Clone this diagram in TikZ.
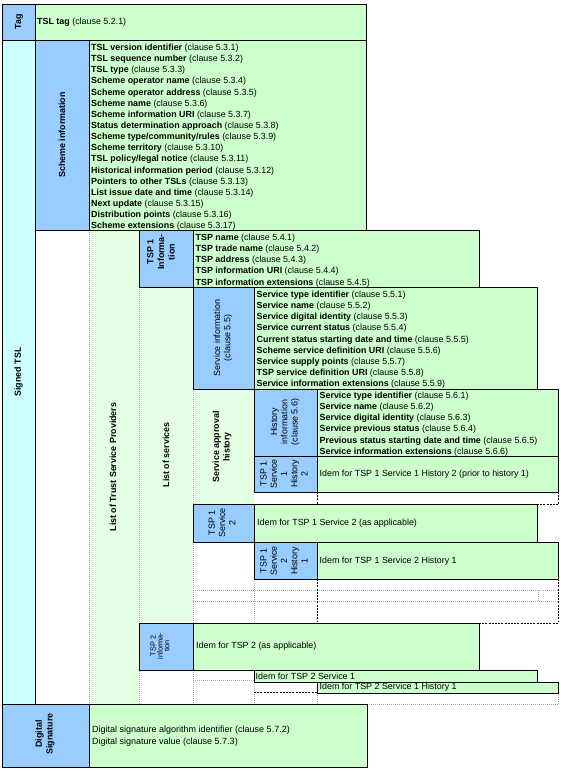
\documentclass[tikz,border=0pt]{standalone}
\usepackage{fontspec}
\setmainfont{Liberation Sans}
\usepackage{tikz}

\definecolor{tslblue}{HTML}{99CCFF}
\definecolor{tslgreen}{HTML}{CCFFCC}
\definecolor{tsllist}{HTML}{E4FFE4}
\definecolor{tslcyan}{HTML}{CCFFFF}

\tikzset{
	headbox/.style={draw=black, line width=0.8pt, fill=tslblue},
	fieldbox/.style={draw=black, line width=0.8pt, fill=tslgreen},
	listcol/.style={fill=tsllist},
	gridline/.style={draw=black!35, line width=0.6pt, dash pattern=on 1pt off 1pt},
	openline/.style={draw=black, line width=0.9pt, dash pattern=on 2pt off 1.2pt},
	vlabel/.style={rotate=90, align=center, inner sep=0pt, font=\fontsize{8.9}{10.6}\selectfont\bfseries},
	vlabelrm/.style={rotate=90, align=center, inner sep=0pt, font=\fontsize{8.9}{10.3}\selectfont},
	fields/.style={anchor=north west, align=left, inner sep=0pt, font=\fontsize{8.9}{11.15}\selectfont},
	idem/.style={anchor=west, inner sep=0pt, font=\fontsize{8.9}{11}\selectfont},
}
\newcommand\tslfield[2]{\textbf{#1} (clause #2)}

\begin{document}
\begin{tikzpicture}[x=1pt, y=-1pt]
			%%%%% START %%%%%
			\useasboundingbox (0,0) rectangle (561,771);
			
			\fill[listcol] (89,230) rectangle (139,704);
			\fill[listcol] (139,287) rectangle (193,622);
			\fill[listcol] (193,389) rectangle (254,504);
			
			\draw[gridline] (89,230) -- (89,704);
			\draw[gridline] (139,287) -- (139,704);
			\draw[gridline] (193,389) -- (193,504);
			\draw[gridline] (193,542) -- (193,704);
			\draw[gridline] (254,579) -- (254,622);
			\draw[gridline] (254,682) -- (254,704);
			\draw[gridline] (193,590) -- (558,590);
			\draw[gridline] (193,601) -- (558,601);
			\draw[gridline] (538,590) -- (538,601);
			\draw[gridline] (193,680) -- (254,680);
			\draw[gridline] (367,704) -- (558,704);
			\draw[gridline] (317,693) -- (317,704);
			\draw[gridline] (558,693) -- (558,704);
			
			\draw[openline] (317,492) -- (317,504);
			\draw[openline] (558,492) -- (558,504);
			\draw[openline] (537,504) -- (558,504);
			\draw[openline] (317,579) -- (317,622);
			\draw[openline] (558,579) -- (558,622);
			\draw[openline] (479,623) -- (558,623);
			\draw[openline] (254,692) -- (317,692);
			
			% tag and scheme information
			\draw[headbox] (2,4) rectangle (35,40);
			\draw[fieldbox] (35,4) rectangle (366,40);
			\draw[draw=black, line width=0.8pt, fill=tslcyan] (2,40) rectangle (35,704);
			\draw[headbox] (35,40) rectangle (89,230);
			\draw[fieldbox] (89,40) rectangle (366,230);
			
			% TSP 1
			\draw[headbox] (139,230) rectangle (193,287);
			\draw[fieldbox] (193,230) rectangle (479,287);
			\draw[headbox] (193,287) rectangle (254,389);
			\draw[fieldbox] (254,287) rectangle (537,389);
			\draw[headbox] (254,389) rectangle (317,456);
			\draw[fieldbox] (317,389) rectangle (558,456);
			\draw[headbox] (254,456) rectangle (317,492);
			\draw[fieldbox] (317,456) rectangle (558,492);
			\draw[headbox] (193,504) rectangle (254,542);
			\draw[fieldbox] (254,504) rectangle (537,542);
			\draw[headbox] (254,542) rectangle (317,579);
			\draw[fieldbox] (317,542) rectangle (558,579);
			
			% TSP 2
			\draw[headbox] (139,623) rectangle (193,670);
			\draw[fieldbox] (193,623) rectangle (479,670);
			\draw[fieldbox] (254,670) rectangle (537,682);
			\draw[fieldbox] (317,682) rectangle (558,693);
			
			% digital signature
			\draw[headbox] (2,704) rectangle (89,767);
			\draw[fieldbox] (89,704) rectangle (367,767);
			
			\node[vlabel] (tag) at (19,22) {Tag};
			\node[idem] (tagtext) at (37,22) {\tslfield{TSL tag}{5.2.1}};
			\node[vlabel] (signed) at (18.5,372) {Signed TSL};
			\node[vlabel] (scheme) at (62,135) {Scheme information};
			\node[fields] (schemelist) at (91,43.8) {\tslfield{TSL version identifier}{5.3.1}\\
				\tslfield{TSL sequence number}{5.3.2}\\
				\tslfield{TSL type}{5.3.3}\\
				\tslfield{Scheme operator name}{5.3.4}\\
				\tslfield{Scheme operator address}{5.3.5}\\
				\tslfield{Scheme name}{5.3.6}\\
				\tslfield{Scheme information URI}{5.3.7}\\
				\tslfield{Status determination approach}{5.3.8}\\
				\tslfield{Scheme type/community/rules}{5.3.9}\\
				\tslfield{Scheme territory}{5.3.10}\\
				\tslfield{TSL policy/legal notice}{5.3.11}\\
				\tslfield{Historical information period}{5.3.12}\\
				\tslfield{Pointers to other TSLs}{5.3.13}\\
				\tslfield{List issue date and time}{5.3.14}\\
				\tslfield{Next update}{5.3.15}\\
				\tslfield{Distribution points}{5.3.16}\\
				\tslfield{Scheme extensions}{5.3.17}};
			
			\node[vlabel] (listtsp) at (113,467) {List of Trust Service Providers};
			\node[vlabel] (listsvc) at (166,455) {List of services};
			\node[vlabel] (approval) at (222,447) {Service approval\\history};
			
			\node[vlabel] (tsp1) at (161,252) {TSP 1\\Informa-\\tion};
			\node[fields] (tsp1list) at (195.5,233.8) {\tslfield{TSP name}{5.4.1}\\
				\tslfield{TSP trade name}{5.4.2}\\
				\tslfield{TSP address}{5.4.3}\\
				\tslfield{TSP information URI}{5.4.4}\\
				\tslfield{TSP information extensions}{5.4.5}};
			
			\node[vlabelrm] (svcinfo) at (223,338) {Service information\\(clause 5.5)};
			\node[fields] (svclist) at (256.5,290.8) {\tslfield{Service type identifier}{5.5.1}\\
				\tslfield{Service name}{5.5.2}\\
				\tslfield{Service digital identity}{5.5.3}\\
				\tslfield{Service current status}{5.5.4}\\
				\tslfield{Current status starting date and time}{5.5.5}\\
				\tslfield{Scheme service definition URI}{5.5.6}\\
				\tslfield{Service supply points}{5.5.7}\\
				\tslfield{TSP service definition URI}{5.5.8}\\
				\tslfield{Service information extensions}{5.5.9}};
			
			\node[vlabelrm] (histinfo) at (285,422) {History\\information\\(clause 5.6)};
			\node[fields] (histlist) at (319.5,391.8) {\tslfield{Service type identifier}{5.6.1}\\
				\tslfield{Service name}{5.6.2}\\
				\tslfield{Service digital identity}{5.6.3}\\
				\tslfield{Service previous status}{5.6.4}\\
				\tslfield{Previous status starting date and time}{5.6.5}\\
				\tslfield{Service information extensions}{5.6.6}};
			
			\node[vlabelrm] (tsoneshoneh) at (284,474) {TSP 1\\Service\\1\\History\\2};
			\node[idem] (tsoneshonehtext) at (319.5,474) {Idem for TSP 1 Service 1 History 2 (prior to history 1)};
			\node[vlabelrm] (tsonestwo) at (222,523) {TSP 1\\Service\\2};
			\node[idem] (tsonestwotext) at (257,523) {Idem for TSP 1 Service 2 (as applicable)};
			\node[vlabelrm] (tsonestwoh) at (284,561) {TSP 1\\Service\\2\\History\\1};
			\node[idem] (tsonestwohtext) at (319.5,561) {Idem for TSP 1 Service 2 History 1};
			
			\node[vlabelrm, font=\fontsize{7.3}{6.8}\selectfont] (tsp2) at (160,646) {TSP 2\\informa-\\tion};
			\node[idem] (tsp2text) at (196,646) {Idem for TSP 2 (as applicable)};
			\node[idem] (tstwostext) at (255.5,676) {Idem for TSP 2 Service 1};
			\node[idem] (tstwoshtext) at (319.5,687.5) {Idem for TSP 2 Service 1 History 1};
			
			\node[vlabel] (digsig) at (45,734) {Digital\\Signature};
			\node[idem, align=left, font=\fontsize{9}{11.7}\selectfont] (digsigtext) at (92,736) {Digital signature algorithm identifier (clause 5.7.2)\\Digital signature value (clause 5.7.3)};
			%%%%% END %%%%%
\end{tikzpicture}
\end{document}
